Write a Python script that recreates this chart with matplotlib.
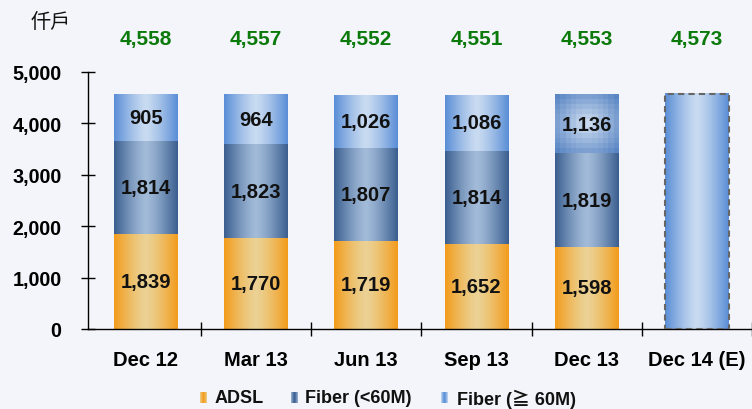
import matplotlib
matplotlib.use('Agg')
import matplotlib.pyplot as plt
import numpy as np
from matplotlib.colors import to_rgb
from matplotlib.patches import Rectangle

# data (thousand households)
periods = ['Dec 12', 'Mar 13', 'Jun 13', 'Sep 13', 'Dec 13', 'Dec 14 (E)']
adsl = [1839, 1770, 1719, 1652, 1598]
fiber_lo = [1814, 1823, 1807, 1814, 1819]
fiber_hi = [905, 964, 1026, 1086, 1136]
totals = [4558, 4557, 4552, 4551, 4553, 4573]
forecast_total = 4573

series_names = ['ADSL', 'Fiber (<60M)', 'Fiber (\u2267 60M)']

# gradient colours: (edge, centre)
GRAD = {
    'ADSL': ('#f39c1c', '#ebd295'),
    'Fiber (<60M)': ('#3b5f90', '#a2bbd9'),
    'Fiber (\u2267 60M)': ('#5a8ed6', '#c9dbf1'),
}

FONT = ['Liberation Sans', 'Noto Sans CJK TC', 'DejaVu Sans']
plt.rcParams['font.family'] = FONT
plt.rcParams['font.weight'] = 'bold'


def hgrad(edge, centre, n=64):
    t = np.linspace(0, 1, n)
    w = 1 - np.abs(2 * t - 1) ** 1.3
    e, c = np.array(to_rgb(edge)), np.array(to_rgb(centre))
    row = e[None, :] + (c - e)[None, :] * w[:, None]
    return row[None, :, :]


def rgrad(edge, centre, n=12):
    # blocky radial gradient (as in the Dec 13 top block)
    yy, xx = np.mgrid[0:n, 0:n]
    r = np.sqrt(((xx - (n - 1) / 2) / (n / 2)) ** 2 + ((yy - (n - 1) / 2) / (n / 2)) ** 2)
    w = np.clip(1 - r / 1.3, 0, 1)
    e, c = np.array(to_rgb(edge)), np.array(to_rgb(centre))
    return e[None, None, :] + (c - e)[None, None, :] * w[:, :, None]


fig = plt.figure(figsize=(7.52, 4.10), dpi=100)
fig.patch.set_facecolor('#f4f5fa')
ax = fig.add_axes([88 / 752, 80 / 410, 1 - 88 / 752, 257 / 410])
ax.set_facecolor('none')

width = 0.58
x = np.arange(len(periods))

for i in range(len(adsl)):
    bottom = 0
    for name, vals in zip(series_names, [adsl, fiber_lo, fiber_hi]):
        v = vals[i]
        edge, centre = GRAD[name]
        img = hgrad(edge, centre)
        if i == 4 and name == series_names[2]:
            img = rgrad('#5a86c4', '#d3e1f2')
        ax.imshow(img, extent=[x[i] - width / 2, x[i] + width / 2, bottom, bottom + v],
                  aspect='auto', interpolation='bilinear' if img.shape[0] == 1 else 'nearest',
                  zorder=2)
        ax.text(x[i], bottom + v / 2, f'{v:,}', ha='center', va='center',
                fontsize=14.5, fontweight='bold', color='#111111', zorder=3)
        bottom += v

# forecast bar
fx = x[-1]
edge, centre = GRAD[series_names[2]]
ax.imshow(hgrad(edge, centre), extent=[fx - width / 2, fx + width / 2, 0, forecast_total],
          aspect='auto', interpolation='bilinear', zorder=2)
ax.add_patch(Rectangle((fx - width / 2, 0), width, forecast_total, fill=False,
                       edgecolor='#666666', linestyle=(0, (3, 2)), linewidth=1.5, zorder=3))

# totals in green above the plot
for xi, t in zip(x, totals):
    ax.text(xi, 1.13, f'{t:,}', transform=ax.get_xaxis_transform(), ha='center',
            va='center', fontsize=15, fontweight='bold', color='#0b7a0b')

ax.set_xlim(-0.525, len(periods) - 0.5)
ax.set_ylim(0, 5000)

ax.set_yticks(np.arange(0, 5001, 1000))
ax.set_yticklabels([f'{v:,}' for v in range(0, 5001, 1000)], fontsize=14.2, fontweight='bold')
ax.tick_params(axis='y', direction='inout', length=10, width=1, pad=14)

ax.set_xticks(np.arange(len(periods)) + 0.5)
ax.set_xticklabels([])
ax.tick_params(axis='x', which='major', direction='inout', length=10, width=1)
ax.set_xticks(x, minor=True)
ax.set_xticklabels(periods, minor=True, fontsize=14.5, fontweight='bold')
ax.tick_params(axis='x', which='minor', length=0, pad=15)

for s in ['top', 'right']:
    ax.spines[s].set_visible(False)
for s in ['left', 'bottom']:
    ax.spines[s].set_linewidth(1)
    ax.spines[s].set_color('black')

# unit label
fig.text(31 / 752, 1 - 22 / 410, '仟戶', fontsize=14.5, ha='left', va='center',
         family=['Noto Sans CJK TC', 'DejaVu Sans'], fontweight='normal', color='#111111')

# legend with small gradient squares
legend_pos = [(200, 215), (291, 305), (441, 457)]
for name, (sx, tx) in zip(series_names, legend_pos):
    edge, centre = GRAD[name]
    lax = fig.add_axes([sx / 752, 1 - 404 / 410, 7 / 752, 11 / 410])
    lax.imshow(hgrad(centre, edge), aspect='auto', interpolation='bilinear')
    lax.axis('off')
    fig.text(tx / 752, 1 - 399 / 410, name, fontsize=13, fontweight='bold',
             ha='left', va='center', color='#111111')

fig.savefig('out.png', dpi=100, facecolor=fig.get_facecolor())
